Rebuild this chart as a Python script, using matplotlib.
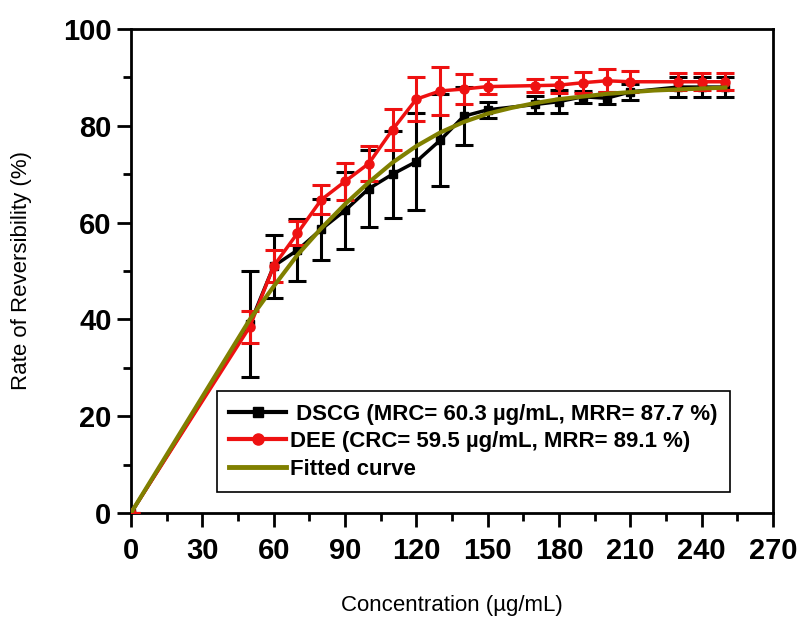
import matplotlib
matplotlib.use('Agg')
import matplotlib.pyplot as plt
from matplotlib.lines import Line2D
from matplotlib.ticker import MultipleLocator

plt.rcParams['font.family'] = ['Liberation Sans', 'DejaVu Sans']

# DSCG data
conc = [0, 50, 60, 70, 80, 90, 100, 110, 120, 130, 140, 150, 170, 180, 190, 200, 210, 230, 240, 250]
dscg = [0, 39.0, 51.0, 54.3, 58.6, 62.5, 67.0, 70.0, 72.6, 77.0, 82.0, 83.3, 84.4, 85.0, 86.0, 85.7, 87.0, 88.0, 88.0, 88.0]
dscg_err = [0, 11.0, 6.5, 6.4, 6.3, 8.0, 8.0, 9.0, 10.0, 9.5, 6.0, 1.7, 1.8, 2.3, 1.2, 1.2, 1.6, 2.0, 2.0, 2.0]

# DEE data
dee = [0, 38.5, 51.0, 57.8, 64.7, 68.5, 72.2, 79.2, 85.5, 87.2, 87.6, 88.1, 88.3, 88.4, 88.9, 89.3, 89.1, 89.1, 89.1, 89.1]
dee_err = [0, 3.3, 3.3, 2.5, 3.0, 3.8, 3.7, 4.3, 4.6, 5.0, 3.0, 1.5, 1.3, 1.6, 2.2, 2.4, 2.2, 1.8, 1.8, 1.8]

# fitted curve
fit_x = [0, 20, 40, 50, 60, 70, 80, 90, 100, 110, 120, 130, 140, 150, 160, 170, 180, 200, 220, 250]
fit_y = [0, 16.0, 32.0, 40.0, 46.8, 53.3, 58.8, 63.8, 68.3, 72.4, 75.8, 78.6, 80.8, 82.5, 83.7, 84.7, 85.5, 86.6, 87.3, 87.9]

labels = [' DSCG (MRC= 60.3 \u00b5g/mL, MRR= 87.7 %)',
          'DEE (CRC= 59.5 \u00b5g/mL, MRR= 89.1 %)',
          'Fitted curve']

red = '#ee1111'
olive = '#808000'

fig = plt.figure(figsize=(8.01, 6.17), dpi=100)
ax = fig.add_axes([0.1635, 0.1686, 0.8015, 0.7844])

ax.errorbar(conc, dscg, yerr=dscg_err, color='black', lw=2.5, marker='s', ms=5.5,
            capsize=6.5, capthick=2.2, elinewidth=2.2, zorder=2)
ax.errorbar(conc, dee, yerr=dee_err, color=red, lw=2.5, marker='o', ms=6.5,
            capsize=6.5, capthick=2.2, elinewidth=2.2, zorder=3)
ax.plot(fit_x, fit_y, color=olive, lw=3, zorder=4)

ax.set_xlim(0, 270)
ax.set_ylim(0, 100)
ax.xaxis.set_major_locator(MultipleLocator(30))
ax.xaxis.set_minor_locator(MultipleLocator(15))
ax.yaxis.set_major_locator(MultipleLocator(20))
ax.yaxis.set_minor_locator(MultipleLocator(10))
ax.tick_params(which='major', direction='out', length=10, width=2, labelsize=21)
ax.tick_params(axis='x', which='major', pad=7)
ax.tick_params(axis='y', which='major', pad=4)
ax.tick_params(which='minor', direction='out', length=6, width=2)
for lbl in ax.get_xticklabels() + ax.get_yticklabels():
    lbl.set_fontweight('bold')
for s in ax.spines.values():
    s.set_linewidth(2)

ax.set_xlabel('Concentration (\u00b5g/mL)', fontsize=16, labelpad=22)
ax.set_ylabel('Rate of Reversibility (%)', fontsize=16, labelpad=22)

handles = [Line2D([], [], color='black', lw=3, marker='s', ms=7),
           Line2D([], [], color=red, lw=3, marker='o', ms=8),
           Line2D([], [], color=olive, lw=3.5)]
leg = ax.legend(handles, labels, loc='lower left', bbox_to_anchor=(0.134, 0.043),
                prop={'weight': 'bold', 'size': 16}, fancybox=False, framealpha=1,
                edgecolor='black', handlelength=2.55, handletextpad=0.2,
                borderpad=0.55, labelspacing=0.3, borderaxespad=0)
leg.get_frame().set_linewidth(1.2)

fig.savefig('out.png', dpi=100)
